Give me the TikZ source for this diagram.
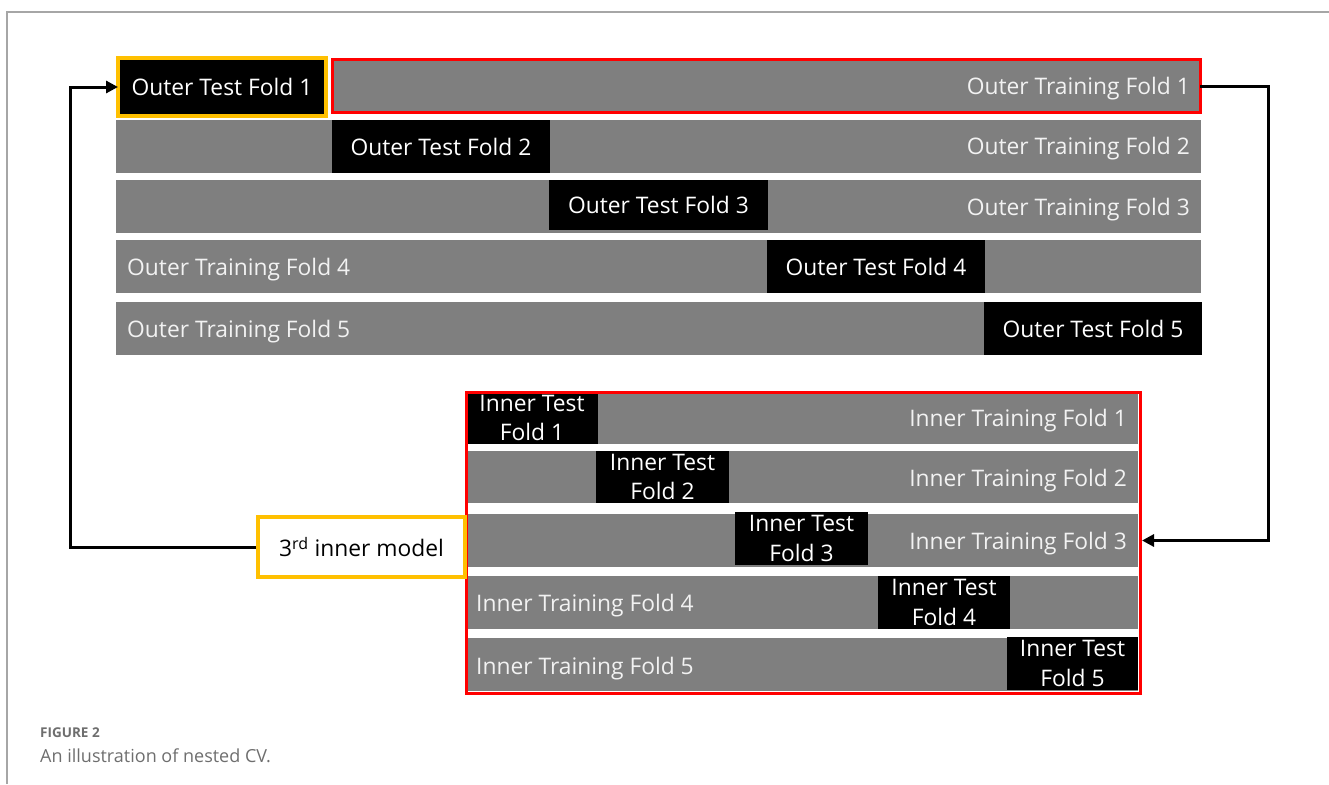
\documentclass[tikz,border=0pt]{standalone}
\usepackage{fontspec}
\setmainfont{Open Sans}
\usetikzlibrary{arrows.meta}
\definecolor{bargray}{HTML}{7F7F7F}
\definecolor{boxred}{HTML}{FF0000}
\definecolor{boxyellow}{HTML}{FFC000}
\definecolor{framegray}{HTML}{A6A6A6}
\definecolor{capgray}{HTML}{6E6E6E}
\definecolor{lbltext}{HTML}{F2F2F2}
\begin{document}
\begin{tikzpicture}[x=1pt,y=-1pt,
  bar/.style={fill=bargray, draw=none, anchor=north west, inner sep=0pt, outer sep=0pt},
  testbox/.style={fill=black, draw=none, anchor=north west, inner sep=0pt, outer sep=0pt,
     text=white, font=\fontsize{22.8}{29.5}\selectfont, align=center},
  lbl/.style={text=lbltext, font=\fontsize{22.8}{27}\selectfont, inner sep=0pt},
  conn/.style={line width=3pt, -{Triangle[length=12pt,width=12pt]}}
]
\useasboundingbox (0,0) rectangle (1329,784);
% frame
\draw[framegray, line width=1.2pt] (7,784) -- (7,12) -- (1329,12);

% ---------- outer rows ----------
\node[testbox, fill=black, draw=boxyellow, line width=4pt, minimum width=208pt, minimum height=58pt] (ot1) at (118,58) {Outer Test Fold 1};
\node[bar, draw=boxred, line width=3pt, minimum width=868pt, minimum height=53pt] (or1) at (332,59.5) {};
\node[lbl, anchor=base east] (or1l) at (1190,94) {Outer Training Fold 1};

\node[bar, minimum width=1085pt, minimum height=53pt] (ob2) at (116,120) {};
\node[testbox, minimum width=218pt, minimum height=53pt] (ot2) at (332,120) {Outer Test Fold 2};
\node[lbl, anchor=base east] (ob2l) at (1190,154) {Outer Training Fold 2};

\node[bar, minimum width=1085pt, minimum height=53pt] (ob3) at (116,180) {};
\node[testbox, minimum width=219pt, minimum height=50pt] (ot3) at (549,180) {Outer Test Fold 3};
\node[lbl, anchor=base east] (ob3l) at (1190,215) {Outer Training Fold 3};

\node[bar, minimum width=1085pt, minimum height=53pt] (ob4) at (116,240) {};
\node[testbox, minimum width=218pt, minimum height=53pt] (ot4) at (767,240) {Outer Test Fold 4};
\node[lbl, anchor=base west] (ob4l) at (127,275) {Outer Training Fold 4};

\node[bar, minimum width=1085pt, minimum height=53pt] (ob5) at (116,302) {};
\node[testbox, minimum width=218pt, minimum height=53pt] (ot5) at (984,302) {Outer Test Fold 5};
\node[lbl, anchor=base west] (ob5l) at (127,337) {Outer Training Fold 5};

% ---------- inner rows ----------
\node[bar, minimum width=672pt, minimum height=52pt] (ib1) at (466,392) {};
\node[testbox, minimum width=132pt, minimum height=52pt] (it1) at (466,392) {Inner Test\\Fold 1};
\node[lbl, anchor=base east] (ib1l) at (1127,426) {Inner Training Fold 1};

\node[bar, minimum width=672pt, minimum height=52pt] (ib2) at (466,451) {};
\node[testbox, minimum width=133pt, minimum height=52pt] (it2) at (596,451) {Inner Test\\Fold 2};
\node[lbl, anchor=base east] (ib2l) at (1127,486) {Inner Training Fold 2};

\node[bar, minimum width=672pt, minimum height=53pt] (ib3) at (466,514) {};
\node[testbox, minimum width=133pt, minimum height=53pt] (it3) at (735,512) {Inner Test\\Fold 3};
\node[lbl, anchor=base east] (ib3l) at (1127,549) {Inner Training Fold 3};

\node[bar, minimum width=672pt, minimum height=53pt] (ib4) at (466,576) {};
\node[testbox, minimum width=132pt, minimum height=53pt] (it4) at (878,576) {Inner Test\\Fold 4};
\node[lbl, anchor=base west] (ib4l) at (476,611) {Inner Training Fold 4};

\node[bar, minimum width=672pt, minimum height=53pt] (ib5) at (466,638) {};
\node[testbox, minimum width=131pt, minimum height=53pt] (it5) at (1007,637) {Inner Test\\Fold 5};
\node[lbl, anchor=base west] (ib5l) at (476,674) {Inner Training Fold 5};

% inner red frame
\node[draw=boxred, line width=3pt, anchor=north west, inner sep=0pt, minimum width=674pt, minimum height=301pt] (inner) at (465,391) {};

% 3rd inner model
\node[draw=boxyellow, fill=white, line width=4pt, anchor=north west, inner sep=0pt,
      minimum width=207pt, minimum height=60pt, font=\fontsize{22.8}{27}\selectfont] (model) at (256,515) {3\textsuperscript{rd} inner model};

% connectors
\draw[conn] (model.west) -- ++(-186,0) |- (ot1.west);
\draw[conn] (or1.east) -- ++(68,0) |- (inner.east |- ib3.center);

% caption
\node[anchor=west, inner sep=0pt, text=capgray, font=\fontsize{13.5}{16}\selectfont\bfseries] (fig) at (40,733) {FIGURE 2};
\node[anchor=west, inner sep=0pt, text=capgray, font=\fontsize{18}{22}\selectfont] (cap) at (40,756) {An illustration of nested CV.};
\end{tikzpicture}
\end{document}
